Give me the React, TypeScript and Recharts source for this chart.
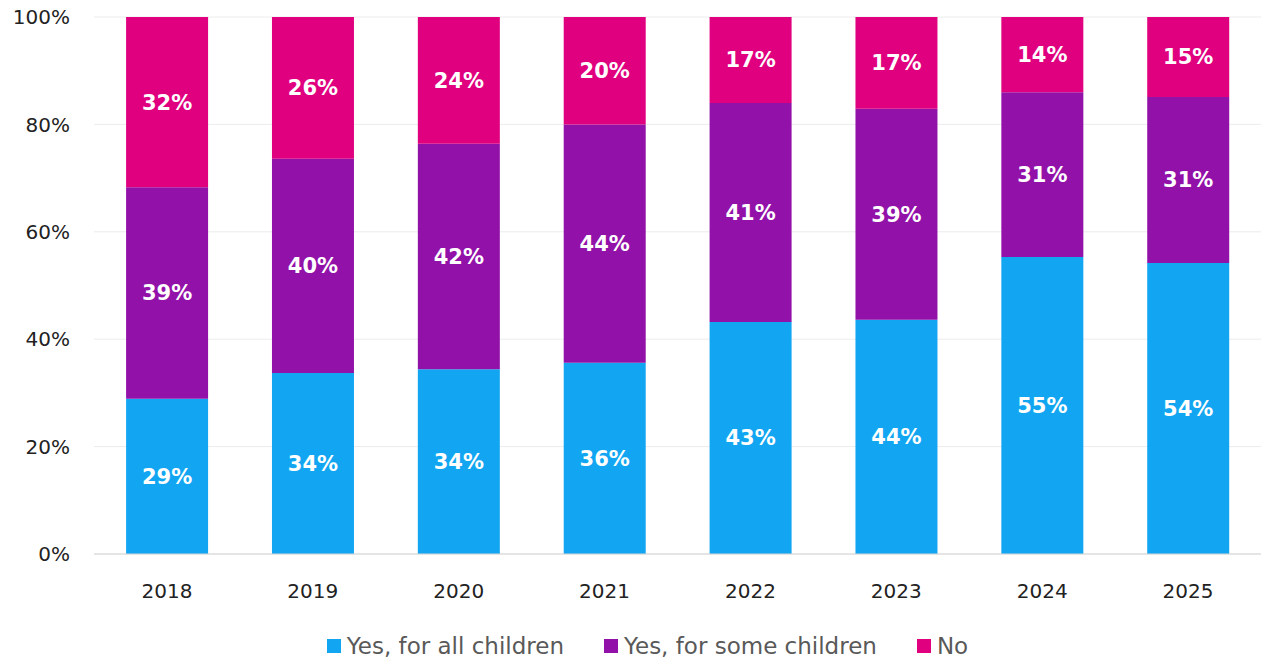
import React from 'react';
import { BarChart, Bar, XAxis, YAxis, CartesianGrid, Legend, LabelList } from 'recharts';

const years = ['2018', '2019', '2020', '2021', '2022', '2023', '2024', '2025'];
const allChildren = [28.9, 33.7, 34.4, 35.6, 43.2, 43.6, 55.3, 54.2];
const someChildren = [39.4, 39.9, 42.0, 44.4, 40.8, 39.3, 30.7, 30.9];
const noChildren = [31.7, 26.4, 23.6, 20.0, 16.6, 17.1, 14.0, 14.9];
const yTicks = [0, 20, 40, 60, 80, 100];

const series = [
  { key: 'all', name: 'Yes, for all children', color: '#12A6F2' },
  { key: 'some', name: 'Yes, for some children', color: '#9211A8' },
  { key: 'no', name: 'No', color: '#E0007F' },
];

const data = years.map((year, i) => ({
  year,
  all: allChildren[i],
  some: someChildren[i],
  no: noChildren[i],
}));

const font = '"DejaVu Sans", "Open Sans", sans-serif';
const fmt = (v: any) => `${Math.round(Number(v))}%`;
const labelStyle = { fill: '#fff', fontSize: 21, fontWeight: 700, fontFamily: font };

function LegendContent() {
  return (
    <div style={{ display: 'flex', justifyContent: 'center', gap: 40, fontSize: 23, color: '#595959', fontFamily: font, marginLeft: 34 }}>
      {series.map((s) => (
        <div key={s.key} style={{ display: 'flex', alignItems: 'center', gap: 6 }}>
          <span style={{ width: 14, height: 14, background: s.color, display: 'inline-block' }} />
          <span>{s.name}</span>
        </div>
      ))}
    </div>
  );
}

export default function App() {
  return (
    <div style={{ position: 'absolute', left: 0, top: 0, fontFamily: font }}>
      <BarChart
        width={1261}
        height={661}
        data={data}
        margin={{ top: 17, right: 0, bottom: 15, left: 0 }}
        barCategoryGap="22%"
      >
        <CartesianGrid vertical={false} stroke="#ececec" />
        <XAxis
          dataKey="year"
          tickLine={false}
          axisLine={{ stroke: '#d4d4d4' }}
          tick={{ fill: '#222', fontSize: 20, fontFamily: font }}
          tickMargin={24}
          height={60}
        />
        <YAxis
          domain={[0, 100]}
          ticks={yTicks}
          allowDataOverflow
          tickFormatter={(v) => `${v}%`}
          tickLine={false}
          axisLine={false}
          tick={{ fill: '#222', fontSize: 20, fontFamily: font }}
          tickMargin={18}
          width={94}
        />
        <Legend
          verticalAlign="bottom"
          height={32}
          wrapperStyle={{ bottom: -4 }}
          content={() => <LegendContent />}
        />
        {series.map((s) => (
          <Bar key={s.key} dataKey={s.key} name={s.name} stackId="a" fill={s.color} isAnimationActive={false}>
            <LabelList dataKey={s.key} position="center" formatter={fmt} style={labelStyle} />
          </Bar>
        ))}
      </BarChart>
    </div>
  );
}
